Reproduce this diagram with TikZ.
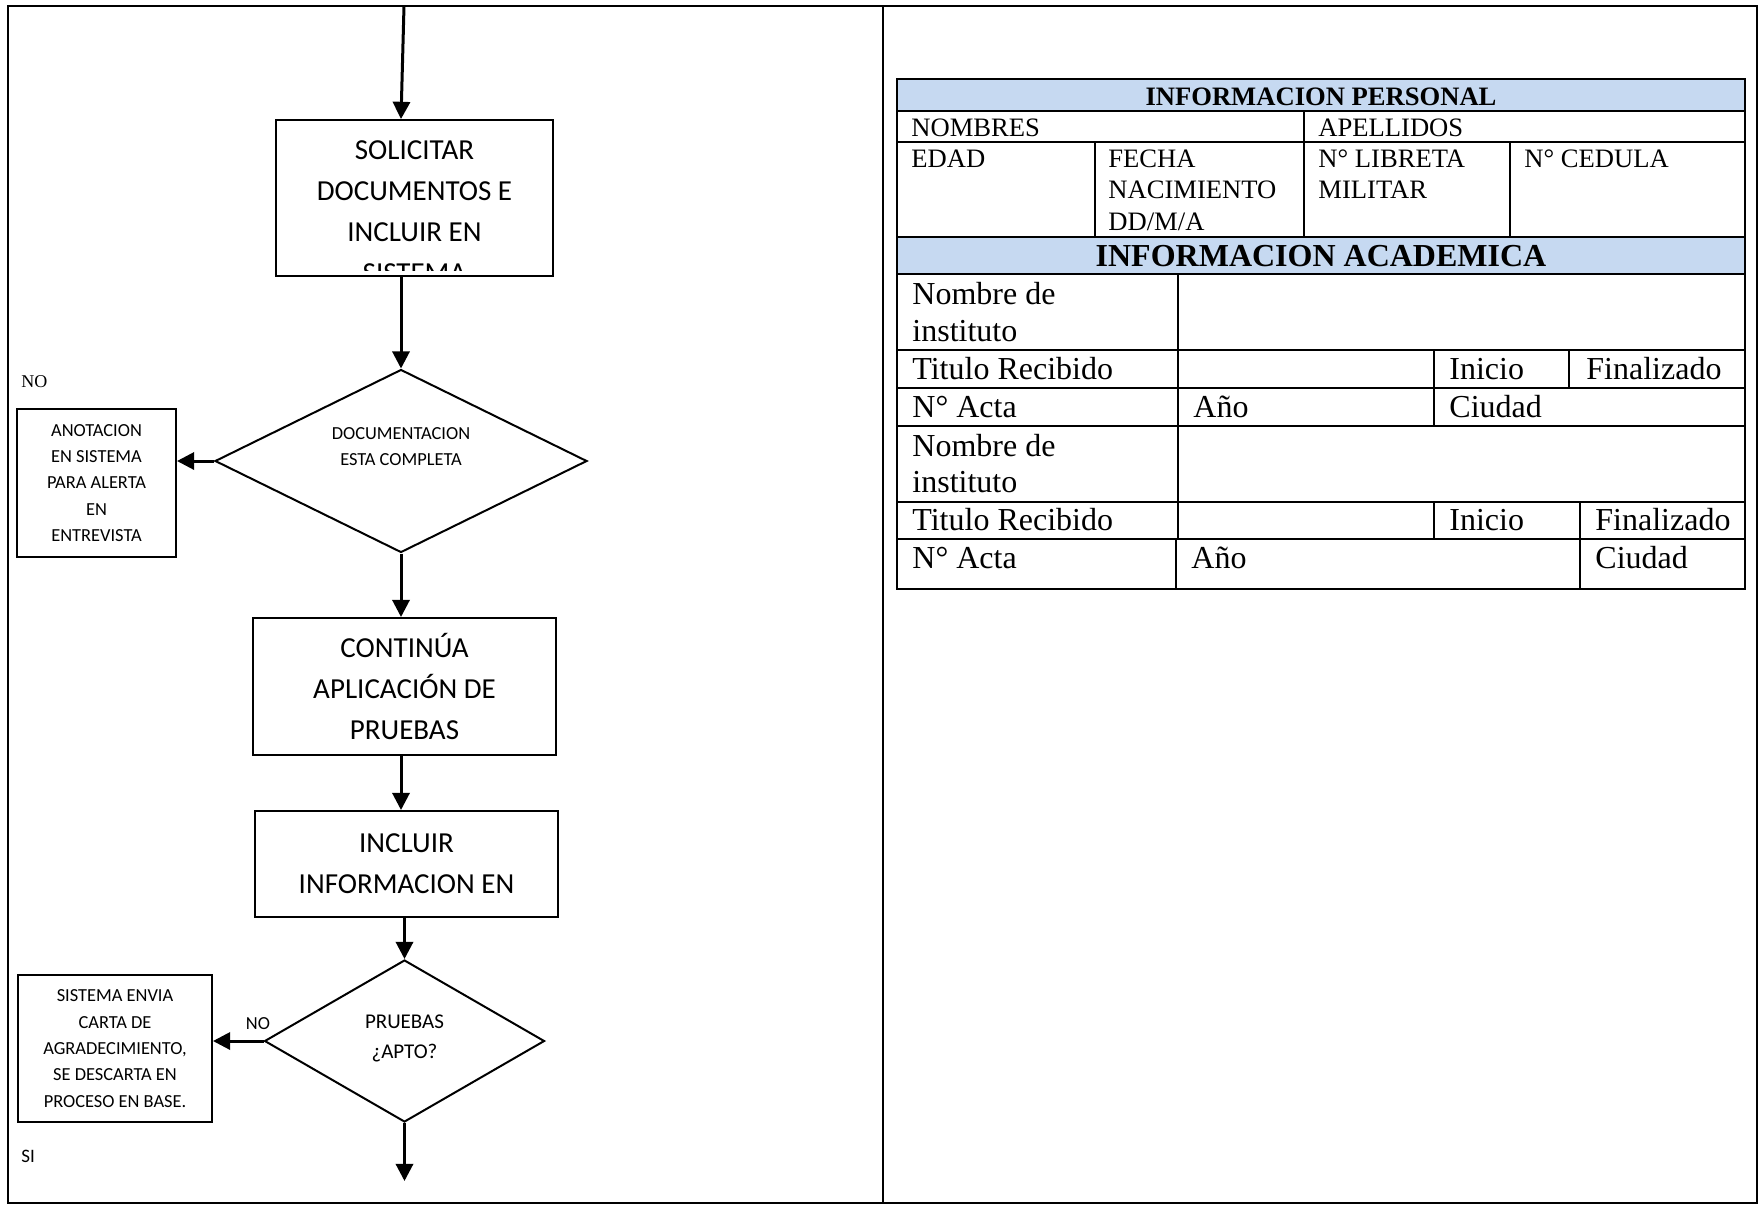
\documentclass[tikz,border=0pt]{standalone}
\usepackage{fontspec}
\setmainfont{Liberation Serif}
\newfontfamily\calibri{Carlito}
\usepackage{tikz}
\usetikzlibrary{shapes.geometric,arrows.meta}
\definecolor{azulcab}{HTML}{C6D9F1}
\tikzset{
  marco/.style={line width=1.3pt},
  caja/.style={draw,line width=1pt,inner sep=0pt,align=center},
  rombo/.style={draw,diamond,line width=1pt,inner sep=0pt},
  flecha/.style={line width=1.5pt,-{Triangle[width=8.6pt,length=8.6pt]}},
  grande/.style={font=\calibri\fontsize{14.5}{20.6}\selectfont,align=center},
  chica/.style={font=\calibri\fontsize{9.2}{13.2}\selectfont,align=center},
  celda/.style={font=\fontsize{13.3}{15.5}\selectfont,anchor=base west,inner sep=0pt},
  celdag/.style={font=\fontsize{16}{18.5}\selectfont,anchor=base west,inner sep=0pt},
  linea/.style={line width=1.2pt}
}

\begin{document}
\begin{tikzpicture}[x=0.5pt,y=-0.5pt]
  \useasboundingbox (0,0) rectangle (1760,1206);
  \draw[marco] (8,6) rectangle (1757,1203);
  \draw[marco] (883,6) -- (883,1203);

  % flujo
  \coordinate (inicio) at (404,6);
  \node[caja,minimum width=138.5pt,minimum height=78pt] (solicitar) at (414.5,198) {};
  \begin{scope}
    \clip (277,121) rectangle (552,270);
    \node[grande] (solicitartxt) at (414.5,211.5) {SOLICITAR\\DOCUMENTOS E\\INCLUIR EN\\SISTEMA};
  \end{scope}
  \node[rombo,minimum width=186pt,minimum height=91.5pt] (doc) at (401,461) {};
  \node[chica] (doctxt) at (401,446.5) {DOCUMENTACION\\ESTA COMPLETA};
  \node[caja,chica,minimum width=79.5pt,minimum height=74pt] (anotacion) at (96.5,483) {ANOTACION\\EN SISTEMA\\PARA ALERTA\\EN\\ENTREVISTA};
  \node[font=\fontsize{9}{10}\selectfont,anchor=west,inner sep=0pt] (nouno) at (21,382) {NO};
  \node[caja,grande,minimum width=151.5pt,minimum height=68.5pt] (continua) at (404.5,686.5) {CONTINÚA\\APLICACIÓN DE\\PRUEBAS};
  \node[caja,grande,minimum width=151.5pt,minimum height=53pt] (incluir) at (406.5,864) {INCLUIR\\INFORMACION EN};
  \node[rombo,minimum width=140pt,minimum height=81pt] (apto) at (404.5,1041) {};
  \node[font=\calibri\fontsize{10.5}{15}\selectfont,align=center] (aptotxt) at (404.5,1038.5) {PRUEBAS\\¿APTO?};
  \node[caja,chica,minimum width=97pt,minimum height=73.5pt] (sistema) at (115,1048.5) {SISTEMA ENVIA\\CARTA DE\\AGRADECIMIENTO,\\SE DESCARTA EN\\PROCESO EN BASE.};
  \node[chica] (nodos) at (258,1024) {NO};
  \node[font=\calibri\fontsize{9.5}{11}\selectfont,anchor=west,inner sep=0pt] (si) at (21,1156) {SI};
  \coordinate (fin) at (404.5,1181);

  \draw[flecha] (inicio) -- (solicitar.north -| doc.north);
  \draw[flecha] (solicitar.south -| doc.north) -- (doc.north);
  \draw[flecha] (doc.west) -- (anotacion.east |- doc.west);
  \draw[flecha] (doc.south) -- (continua.north -| doc.south);
  \draw[flecha] (continua.south -| doc.south) -- (incluir.north -| doc.south);
  \draw[flecha] (incluir.south -| apto.north) -- (apto.north);
  \draw[flecha] (apto.west) -- (sistema.east |- apto.west);
  \draw[flecha] (apto.south) -- (fin);

  % tabla
  \fill[azulcab] (897,79) rectangle (1745,111);
  \fill[azulcab] (897,237) rectangle (1745,274);
  \draw[linea] (897,79) rectangle (1745,589);
  \foreach \y in {111,142,237,274,350,388,426,502,539}
    \draw[linea] (897,\y) -- (1745,\y);
  \draw[linea] (1304,111) -- (1304,142);
  \foreach \x in {1095,1304,1510}
    \draw[linea] (\x,142) -- (\x,237);
  \draw[linea] (1178,274) -- (1178,539);
  \draw[linea] (1434,350) -- (1434,426);
  \draw[linea] (1569,350) -- (1569,388);
  \draw[linea] (1434,502) -- (1434,539);
  \draw[linea] (1580,502) -- (1580,589);
  \draw[linea] (1176,539) -- (1176,589);

  \node[font=\bfseries\fontsize{13.3}{15}\selectfont,anchor=base,inner sep=0pt] (infopers) at (1321,105) {INFORMACION PERSONAL};
  \node[celda] (nombres) at (911,136) {NOMBRES};
  \node[celda] (apellidos) at (1318,136) {APELLIDOS};
  \node[celda] (edad) at (911,167) {EDAD};
  \node[celda] (fechaa) at (1108,167) {FECHA};
  \node[celda] (fechab) at (1108,198.5) {NACIMIENTO};
  \node[celda] (fechac) at (1108,230) {DD/M/A};
  \node[celda] (libretaa) at (1318,167) {N° LIBRETA};
  \node[celda] (libretab) at (1318,198.5) {MILITAR};
  \node[celda] (cedula) at (1524,167) {N° CEDULA};

  \node[font=\bfseries\fontsize{16}{18}\selectfont,anchor=base,inner sep=0pt] (infoacad) at (1321,266.5) {INFORMACION ACADEMICA};
  \node[celdag] (instua) at (912,304.5) {Nombre de};
  \node[celdag] (instub) at (912,341.5) {instituto};
  \node[celdag] (tituloa) at (912,379) {Titulo Recibido};
  \node[celdag] (inicioa) at (1449,379) {Inicio};
  \node[celdag] (finala) at (1586,379) {Finalizado};
  \node[celdag] (actaa) at (912,417) {N° Acta};
  \node[celdag] (anoa) at (1193,417) {Año};
  \node[celdag] (ciudada) at (1449,417) {Ciudad};
  \node[celdag] (instuc) at (912,456) {Nombre de};
  \node[celdag] (instud) at (912,492) {instituto};
  \node[celdag] (titulob) at (912,530) {Titulo Recibido};
  \node[celdag] (iniciob) at (1449,530) {Inicio};
  \node[celdag] (finalb) at (1595,530) {Finalizado};
  \node[celdag] (actab) at (912,568) {N° Acta};
  \node[celdag] (anob) at (1191,568) {Año};
  \node[celdag] (ciudadb) at (1595,568) {Ciudad};
\end{tikzpicture}
\end{document}
